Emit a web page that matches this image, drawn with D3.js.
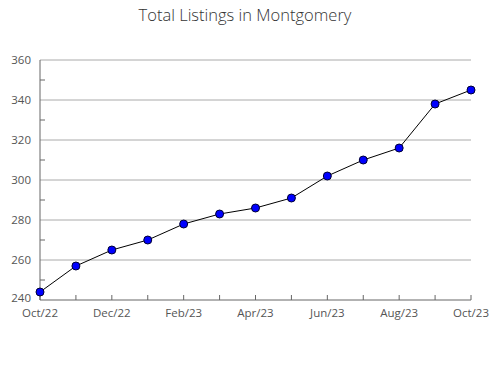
<!DOCTYPE html>
<html>
<head>
<meta charset="utf-8">
<script src="https://cdn.jsdelivr.net/npm/d3@7"></script>
<style>
  body { margin: 0; background: #fff; }
  text { font-family: "Open Sans", "Noto Sans", sans-serif; }
</style>
</head>
<body>
<script>
var months = ["Oct/22", "Nov/22", "Dec/22", "Jan/23", "Feb/23", "Mar/23", "Apr/23",
              "May/23", "Jun/23", "Jul/23", "Aug/23", "Sep/23", "Oct/23"];
var listings = [244, 257, 265, 270, 278, 283, 286, 291, 302, 310, 316, 338, 345];
var yTicks = [240, 260, 280, 300, 320, 340, 360];
var yMinorTicks = [250, 270, 290, 310, 330, 350];

var width = 490;
var height = 380;

var svg = d3.select("body")
    .append("svg")
    .attr("width", width)
    .attr("height", height);

var x = d3.scalePoint().domain(months).range([40, 471]);
var y = d3.scaleLinear().domain([240, 360]).range([300, 60]);

svg.append("text")
    .attr("x", 245)
    .attr("y", 21)
    .attr("text-anchor", "middle")
    .attr("font-size", 16.5)
    .attr("font-weight", 300)
    .attr("fill", "#333")
    .text("Total Listings in Montgomery");

// gridlines
svg.selectAll(".grid")
    .data(yTicks.slice(1))
    .enter()
    .append("line")
    .attr("class", "grid")
    .attr("x1", 40).attr("x2", 471)
    .attr("y1", function(d) { return y(d); })
    .attr("y2", function(d) { return y(d); })
    .attr("stroke", "#aaa");

// minor ticks on y axis
svg.selectAll(".minor")
    .data(yMinorTicks)
    .enter()
    .append("line")
    .attr("x1", 40).attr("x2", 45)
    .attr("y1", function(d) { return y(d); })
    .attr("y2", function(d) { return y(d); })
    .attr("stroke", "#666");

// axes lines
svg.append("line")
    .attr("x1", 40).attr("x2", 40).attr("y1", 60).attr("y2", 300)
    .attr("stroke", "#666");
svg.append("line")
    .attr("x1", 40).attr("x2", 471).attr("y1", 300).attr("y2", 300)
    .attr("stroke", "#666");

// x ticks
svg.selectAll(".xtick")
    .data(months)
    .enter()
    .append("line")
    .attr("x1", function(d) { return x(d); })
    .attr("x2", function(d) { return x(d); })
    .attr("y1", 295).attr("y2", 300)
    .attr("stroke", "#666");

svg.selectAll(".ylabel")
    .data(yTicks)
    .enter()
    .append("text")
    .attr("x", 31)
    .attr("y", function(d) { return d == 240 ? y(d) + 2 : y(d) + 4; })
    .attr("text-anchor", "end")
    .attr("font-size", 11.5)
    .attr("fill", "#555")
    .text(function(d) { return d; });

svg.selectAll(".xlabel")
    .data(months.filter(function(d, i) { return i % 2 == 0; }))
    .enter()
    .append("text")
    .attr("x", function(d) { return x(d); })
    .attr("y", 317)
    .attr("text-anchor", "middle")
    .attr("font-size", 11.5)
    .attr("fill", "#555")
    .text(function(d) { return d; });

var line = d3.line()
    .x(function(d, i) { return x(months[i]); })
    .y(function(d) { return y(d); });

svg.append("path")
    .datum(listings)
    .attr("d", line)
    .attr("fill", "none")
    .attr("stroke", "#000")
    .attr("stroke-width", 1);

svg.selectAll(".mark")
    .data(listings)
    .enter()
    .append("circle")
    .attr("class", "mark")
    .attr("cx", function(d, i) { return x(months[i]); })
    .attr("cy", function(d) { return y(d); })
    .attr("r", 4)
    .attr("fill", "#0000ff")
    .attr("stroke", "#000033")
    .attr("stroke-width", 1);
</script>
</body>
</html>
